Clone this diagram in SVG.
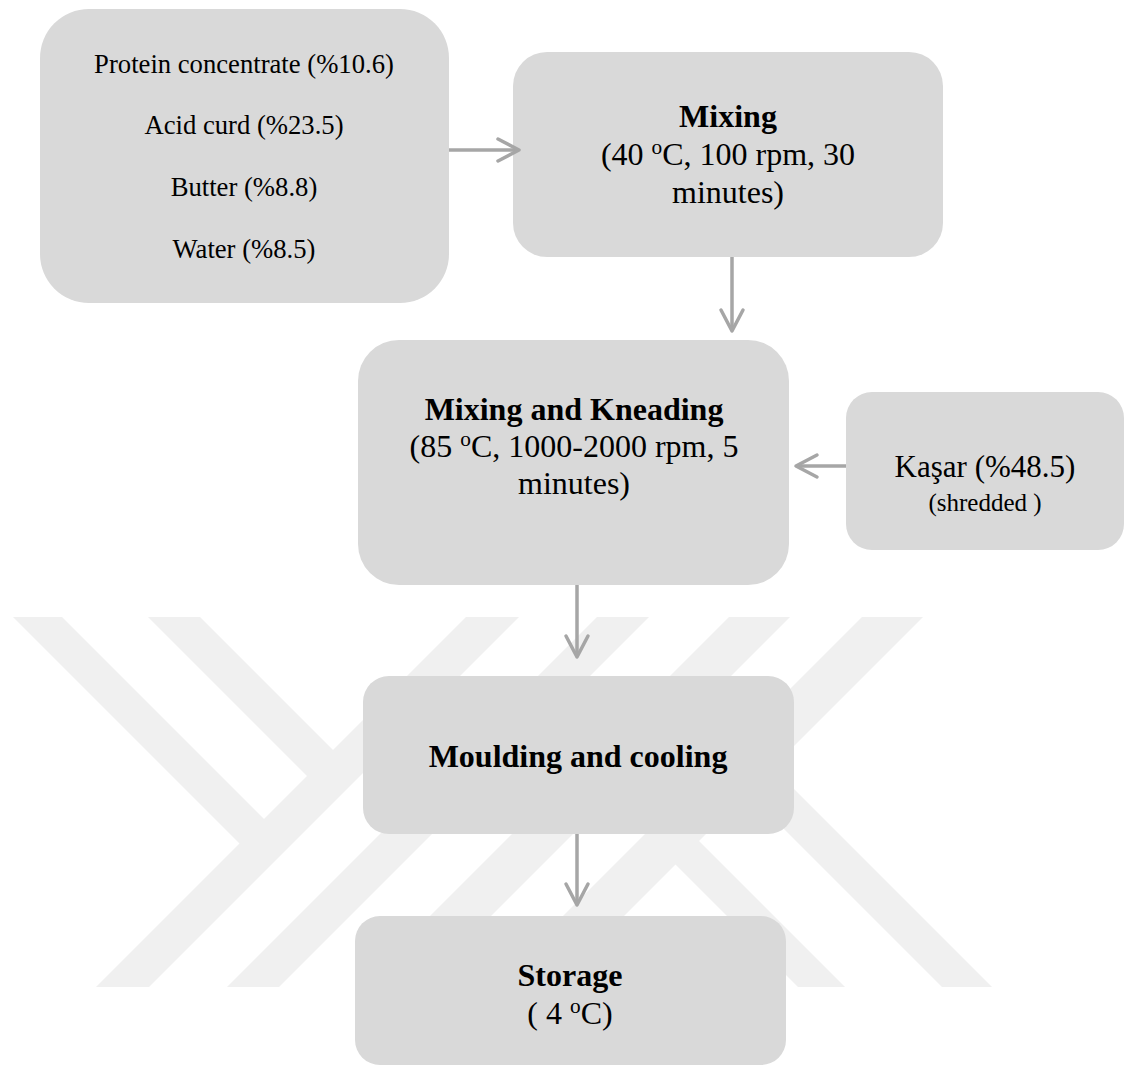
<svg xmlns="http://www.w3.org/2000/svg" width="1125" height="1068" viewBox="0 0 1125 1068">
  <style>
    .box { fill: #d9d9d9; }
    .wm { fill: #f0f0f0; }
    .t { font-family: "Liberation Serif", "Times New Roman", serif; fill: #000000; text-anchor: middle; }
    .s20 { font-size: 26.67px; }
    .s24 { font-size: 32px; }
    .b { font-weight: bold; }
    .conn { fill: none; stroke: #a6a6a6; stroke-width: 3.5; marker-end: url(#ah); }
  </style>
  <defs>
    <marker id="ah" markerUnits="userSpaceOnUse" viewBox="-26 -15 30 30" refX="0" refY="0" markerWidth="30" markerHeight="30" orient="auto">
      <path d="M-21,-11 L0,0 L-21,11" fill="none" stroke="#a6a6a6" stroke-width="3.5" stroke-linecap="round" stroke-linejoin="round"/>
    </marker>
  </defs>
  <rect width="1125" height="1068" fill="#ffffff"/>

  <g id="watermark">
    <polygon class="wm" points="13,617 62,617 270,825 245.5,849.5"/>
    <polygon class="wm" points="148,617 200,617 339,756 313,782"/>
    <polygon class="wm" points="466,617 519,617 149,987 96,987"/>
    <polygon class="wm" points="597,617 649,617 279,987 227,987"/>
    <polygon class="wm" points="729,617 790,617 420,987 359,987"/>
    <polygon class="wm" points="862,617 923,617 553,987 492,987"/>
    <polygon class="wm" points="571,760 618,760 845,987 798,987"/>
    <polygon class="wm" points="715,760 765,760 992,987 942,987"/>
  </g>

  <g id="ingredients">
    <rect class="box" x="40" y="9" width="409" height="294" rx="49" ry="49"/>
    <text class="t s20" x="244" y="73">Protein concentrate (%10.6)</text>
    <text class="t s20" x="244" y="134">Acid curd (%23.5)</text>
    <text class="t s20" x="244" y="196">Butter (%8.8)</text>
    <text class="t s20" x="244" y="258">Water (%8.5)</text>
  </g>

  <g id="mixing">
    <rect class="box" x="513" y="52" width="430" height="205" rx="34" ry="34"/>
    <text class="t s24 b" x="728" y="127">Mixing</text>
    <text class="t s24" x="728" y="165">(40 <tspan font-size="21.3" dy="-10.7">o</tspan><tspan dy="10.7">C, 100 rpm, 30</tspan></text>
    <text class="t s24" x="728" y="203">minutes)</text>
  </g>

  <g id="kneading">
    <rect class="box" x="358" y="340" width="431" height="245" rx="41" ry="41"/>
    <text class="t s24 b" x="574" y="420">Mixing and Kneading</text>
    <text class="t s24" x="574" y="457">(85 <tspan font-size="21.3" dy="-10.7">o</tspan><tspan dy="10.7">C, 1000-2000 rpm, 5</tspan></text>
    <text class="t s24" x="574" y="494">minutes)</text>
  </g>

  <g id="kasar">
    <rect class="box" x="846" y="392" width="278" height="158" rx="26" ry="26"/>
    <text class="t" font-size="31" x="985" y="477">Kaşar (%48.5)</text>
    <text class="t" font-size="25" x="985" y="511">(shredded )</text>
  </g>

  <g id="moulding">
    <rect class="box" x="363" y="676" width="431" height="158" rx="26" ry="26"/>
    <text class="t s24 b" x="578" y="767">Moulding and cooling</text>
  </g>

  <g id="storage">
    <rect class="box" x="355" y="916" width="431" height="149" rx="25" ry="25"/>
    <text class="t s24 b" x="570" y="986">Storage</text>
    <text class="t s24" x="570" y="1024">( 4 <tspan font-size="21.3" dy="-10.7">o</tspan><tspan dy="10.7">C)</tspan></text>
  </g>

  <g id="connectors">
    <path class="conn" d="M449,150 L519,150"/>
    <path class="conn" d="M732,257 L732,331"/>
    <path class="conn" d="M577,585 L577,657"/>
    <path class="conn" d="M577,834 L577,905"/>
    <path class="conn" d="M846,466 L796,466"/>
  </g>
</svg>
